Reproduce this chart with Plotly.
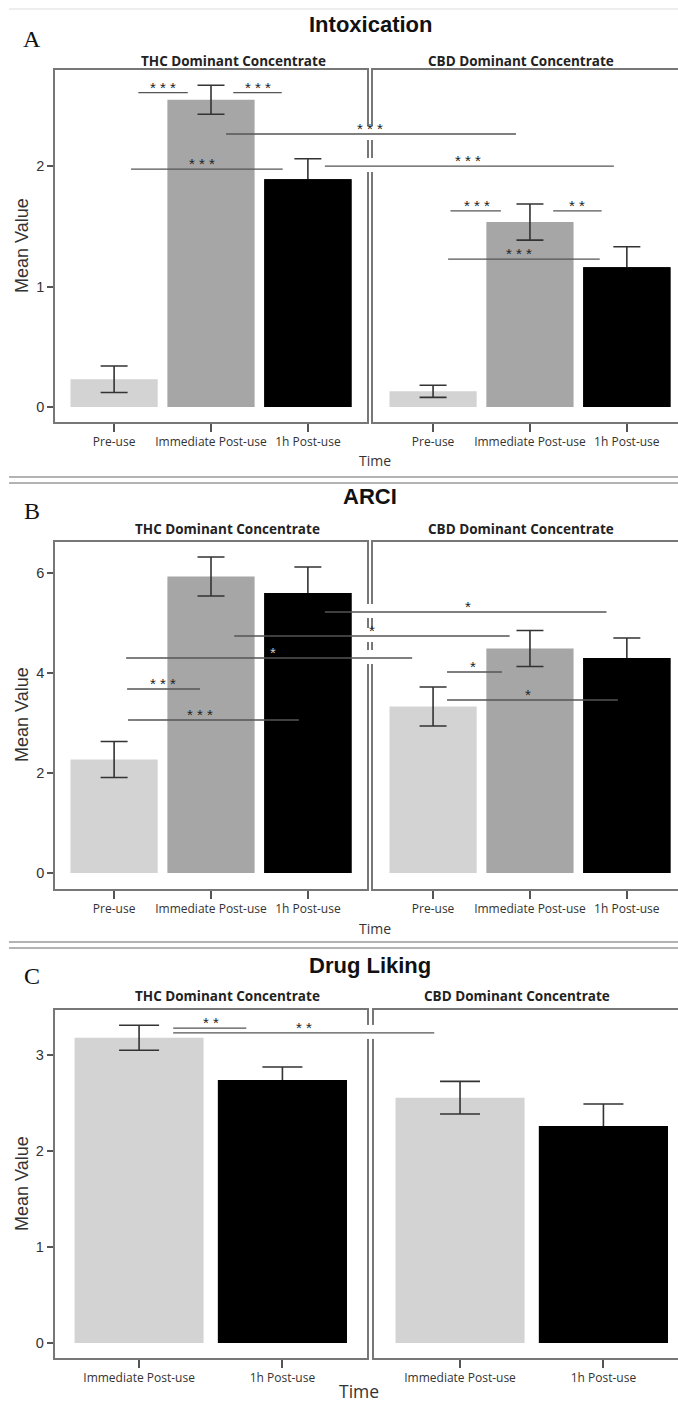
import plotly.graph_objects as go

W, H = 678, 1403

# ---------------- data ----------------
time_3 = ["Pre-use", "Immediate Post-use", "1h Post-use"]
time_2 = ["Immediate Post-use", "1h Post-use"]
colors_3 = ["#d3d3d3", "#a6a6a6", "#000000"]
colors_2 = ["#d3d3d3", "#000000"]

intox_thc = [0.23, 2.55, 1.89]
intox_thc_err = [0.11, 0.12, 0.17]
intox_cbd = [0.13, 1.535, 1.16]
intox_cbd_err = [0.05, 0.15, 0.17]

arci_thc = [2.27, 5.93, 5.60]
arci_thc_err = [0.36, 0.39, 0.52]
arci_cbd = [3.33, 4.49, 4.30]
arci_cbd_err = [0.39, 0.36, 0.40]

liking_thc = [3.18, 2.74]
liking_thc_err = [0.13, 0.135]
liking_cbd = [2.555, 2.26]
liking_cbd_err = [0.17, 0.23]

panel_titles = ["Intoxication", "ARCI", "Drug Liking"]
panel_letters = ["A", "B", "C"]
group_titles = ["THC Dominant Concentrate", "CBD Dominant Concentrate"]
yticks_A = [0, 1, 2]
yticks_B = [0, 2, 4, 6]
yticks_C = [0, 1, 2, 3]

# significance brackets: (start panel, start cat, end panel, end cat, y, label, label panel, label cat, label colour)
sig_A = [
    ("L", 0.25, "L", 0.76, 2.61, "* * *", "L", 0.50, "#222"),
    ("L", 1.23, "L", 1.73, 2.61, "* * *", "L", 1.48, "#222"),
    ("L", 1.155, "R", 0.856, 2.266, "* * *", "L", 2.64, "#222"),
    ("L", 0.175, "L", 1.74, 1.975, "* * *", "L", 0.91, "#222"),
    ("L", 2.175, "R", 1.866, 2.00, "* * *", "R", 0.36, "#222"),
    ("R", 0.18, "R", 0.70, 1.627, "* * *", "R", 0.45, "#222"),
    ("R", 1.24, "R", 1.74, 1.627, "* *", "R", 1.49, "#222"),
    ("R", 0.155, "R", 1.72, 1.228, "* * *", "R", 0.89, "#222"),
]
sig_B = [
    ("L", 2.175, "R", 1.79, 5.22, "*", "R", 0.36, "#222"),
    ("L", 1.24, "R", 0.79, 4.74, "*", "L", 2.66, "#222"),
    ("L", 0.124, "R", -0.216, 4.30, "*", "L", 1.64, "#cccccc"),
    ("L", 0.134, "L", 0.887, 3.68, "* * *", "L", 0.505, "#222"),
    ("L", 0.144, "L", 1.907, 3.06, "* * *", "L", 0.887, "#222"),
    ("R", 0.144, "R", 0.711, 4.02, "*", "R", 0.41, "#222"),
    ("R", 0.144, "R", 1.907, 3.46, "*", "R", 0.98, "#222"),
]
sig_C = [
    ("L", 0.238, "L", 0.748, 3.28, "* *", "L", 0.503, "#222"),
    ("L", 0.238, "R", -0.18, 3.23, "* *", "L", 1.154, "#222"),
]

# ---------------- layout geometry (pixels) ----------------
rows = {
    "A": dict(top=70, bottom=422, xl=(55, 367), xr=(373, 678),
              rl=(-0.61, 2.61), rr=(-0.62, 2.528), yr=(-0.1245, 2.797),
              title_y=24, letter_y=39, sub_y=61, sub_x=(233, 521),
              time_y=461, time_x=375, time_size=14, ylab_y=246),
    "B": dict(top=542, bottom=889, xl=(55, 367), xr=(373, 678),
              rl=(-0.61, 2.61), rr=(-0.62, 2.528), yr=(-0.32, 6.62),
              title_y=497, letter_y=511, sub_y=529, sub_x=(227, 521),
              time_y=928, time_x=375, time_size=14, ylab_y=715),
    "C": dict(top=1010, bottom=1358, xl=(54.5, 367), xr=(374, 678),
              rl=(-0.59, 1.59), rr=(-0.60, 1.52), yr=(-0.156, 3.469),
              title_y=965, letter_y=976, sub_y=996, sub_x=(227, 517),
              time_y=1391, time_x=359, time_size=17.5, ylab_y=1184),
}


def xp(row, panel, cat):
    r = rows[row]
    d0, d1 = r["xl"] if panel == "L" else r["xr"]
    r0, r1 = r["rl"] if panel == "L" else r["rr"]
    return (d0 + (cat - r0) / (r1 - r0) * (d1 - d0)) / W


def ypx(row, val):
    r = rows[row]
    y0, y1 = r["yr"]
    return r["bottom"] - (val - y0) / (y1 - y0) * (r["bottom"] - r["top"])


def pyp(px):
    return 1 - px / H


fig = go.Figure()

panels = [
    ("A", time_3, colors_3, intox_thc, intox_thc_err, intox_cbd, intox_cbd_err, yticks_A, sig_A, 13.5),
    ("B", time_3, colors_3, arci_thc, arci_thc_err, arci_cbd, arci_cbd_err, yticks_B, sig_B, 13.5),
    ("C", time_2, colors_2, liking_thc, liking_thc_err, liking_cbd, liking_cbd_err, yticks_C, sig_C, 20),
]

layout_axes = {}
shapes = []
annotations = []
ax_idx = 1
line_col = "#777777"

for i, (row, cats, cols, thc, thc_e, cbd, cbd_e, yticks, sigs, capw) in enumerate(panels):
    r = rows[row]
    ydom = [pyp(r["bottom"]), pyp(r["top"])]
    for side, vals, errs in (("L", thc, thc_e), ("R", cbd, cbd_e)):
        xa = "x" if ax_idx == 1 else f"x{ax_idx}"
        ya = "y" if ax_idx == 1 else f"y{ax_idx}"
        # bars with error bars
        fig.add_trace(go.Bar(
            x=cats, y=vals, marker=dict(color=cols, line=dict(width=0)), width=0.9,
            error_y=dict(type="data", array=errs, color="#333333", thickness=1.6, width=capw),
            xaxis=xa, yaxis=ya, showlegend=False, hoverinfo="skip"))
        # black bars redrawn on top so the error bar stem disappears inside them
        over_cols = [c if c == "#000000" else "rgba(0,0,0,0)" for c in cols]
        fig.add_trace(go.Bar(
            x=cats, y=vals, marker=dict(color=over_cols, line=dict(width=0)), width=0.9,
            xaxis=xa, yaxis=ya, showlegend=False, hoverinfo="skip"))
        dom = r["xl"] if side == "L" else r["xr"]
        rng = r["rl"] if side == "L" else r["rr"]
        key = "" if ax_idx == 1 else str(ax_idx)
        layout_axes["xaxis" + key] = dict(
            domain=[dom[0] / W, dom[1] / W], range=list(rng), anchor=ya,
            type="category", categoryorder="array", categoryarray=cats,
            showline=True, mirror=True, linecolor=line_col, linewidth=1.5,
            ticks="outside", ticklen=8, tickwidth=1.5, tickcolor="#555",
            tickfont=dict(family="Open Sans", size=12, color="#333"),
            showgrid=False, zeroline=False, fixedrange=True)
        ydict = dict(domain=ydom, range=list(r["yr"]), anchor=xa,
                     showline=True, linecolor=line_col, linewidth=1.5,
                     showgrid=False, zeroline=False, fixedrange=True)
        if side == "L":
            ydict.update(mirror=True, ticks="outside", ticklen=6, tickwidth=1.5,
                         tickcolor="#555", tickvals=yticks,
                         tickfont=dict(family="Arial, Liberation Sans", size=14.5, color="#333"))
        else:
            ydict.update(showticklabels=False, ticks="")
        layout_axes["yaxis" + key] = ydict
        ax_idx += 1

    # gaps in the divider where cross-panel lines pass
    for (p0, c0, p1, c1, yv, lab, lp, lc, lcol) in sigs:
        if p0 != p1:
            yl = ypx(row, yv)
            shapes.append(dict(type="rect", xref="paper", yref="paper",
                               x0=364 / W, x1=376 / W, y0=pyp(yl + 6), y1=pyp(yl - 8),
                               fillcolor="white", line=dict(width=0), layer="above"))
    for (p0, c0, p1, c1, yv, lab, lp, lc, lcol) in sigs:
        yl = pyp(ypx(row, yv))
        shapes.append(dict(type="line", xref="paper", yref="paper",
                           x0=xp(row, p0, c0), x1=xp(row, p1, c1), y0=yl, y1=yl,
                           line=dict(color="#555555", width=1.3), layer="above"))
        annotations.append(dict(xref="paper", yref="paper", x=xp(row, lp, lc), y=yl,
                                text=lab, showarrow=False, xanchor="center", yanchor="bottom",
                                yshift=-5,
                                font=dict(family="Arial, Liberation Sans", size=15, color=lcol)))

    # titles and labels
    annotations.append(dict(xref="paper", yref="paper", x=370 / W, y=pyp(r["title_y"]),
                            text=f"<b>{panel_titles[i]}</b>", showarrow=False,
                            xanchor="center", yanchor="middle",
                            font=dict(family="Liberation Sans, Arial", size=22, color="#111")))
    annotations.append(dict(xref="paper", yref="paper", x=32 / W, y=pyp(r["letter_y"]),
                            text=panel_letters[i], showarrow=False,
                            xanchor="center", yanchor="middle",
                            font=dict(family="Liberation Serif, Times New Roman", size=24, color="#111")))
    for gx, gt in zip(r["sub_x"], group_titles):
        annotations.append(dict(xref="paper", yref="paper", x=gx / W, y=pyp(r["sub_y"]),
                                text=f"<b>{gt}</b>", showarrow=False,
                                xanchor="center", yanchor="middle",
                                font=dict(family="Open Sans", size=13.5, color="#222")))
    annotations.append(dict(xref="paper", yref="paper", x=r["time_x"] / W, y=pyp(r["time_y"]),
                            text="Time", showarrow=False, xanchor="center", yanchor="middle",
                            font=dict(family="Open Sans", size=r["time_size"], color="#333")))
    annotations.append(dict(xref="paper", yref="paper", x=22 / W, y=pyp(r["ylab_y"]),
                            text="Mean Value", showarrow=False, textangle=-90,
                            xanchor="center", yanchor="middle",
                            font=dict(family="Arial, Liberation Sans", size=18, color="#333")))

# separator lines
shapes.append(dict(type="line", xref="paper", yref="paper", x0=9 / W, x1=1, y0=pyp(9), y1=pyp(9),
                   line=dict(color="#dddddd", width=1), layer="above"))
for yy in (477, 483, 942, 948):
    shapes.append(dict(type="line", xref="paper", yref="paper", x0=9 / W, x1=1,
                       y0=pyp(yy), y1=pyp(yy), line=dict(color="#9a9a9a", width=1.5), layer="above"))

fig.update_layout(
    width=W, height=H, margin=dict(l=0, r=0, t=0, b=0),
    paper_bgcolor="white", plot_bgcolor="white", barmode="overlay",
    shapes=shapes, annotations=annotations, **layout_axes)

fig.write_html("out.html", config={"displayModeBar": False},
               post_script="document.body.style.margin='0';")
